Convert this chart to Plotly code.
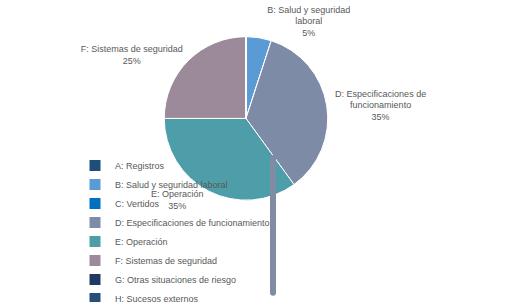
import plotly.graph_objects as go

labels = ["A: Registros", "B: Salud y seguridad laboral", "C: Vertidos",
          "D: Especificaciones de funcionamiento", "E: Operación",
          "F: Sistemas de seguridad", "G: Otras situaciones de riesgo",
          "H: Sucesos externos"]
values = [0, 5, 0, 35, 35, 25, 0, 0]
slice_text = ["", "B: Salud y seguridad<br>laboral<br>5%", "",
              "D: Especificaciones de<br>funcionamiento<br>35%",
              "E: Operación<br>35%", "F: Sistemas de seguridad<br>25%", "", ""]
colors = ["#1f4e79", "#5b9bd5", "#0070c0", "#7d8ba6", "#4d9ea8",
          "#9c8a9b", "#1f3864", "#254e7d"]

fig = go.Figure(go.Pie(
    labels=labels, values=values, text=slice_text, textinfo="text",
    textposition="outside", sort=False, direction="clockwise", rotation=0,
    marker=dict(colors=colors, line=dict(color="white", width=1)),
    textfont=dict(size=9, color="#595959", family="Liberation Sans"),
    domain=dict(x=[0.15, 0.85], y=[0.38, 0.99]),
    showlegend=True,
))
fig.update_layout(
    width=507, height=302, paper_bgcolor="white", plot_bgcolor="white",
    margin=dict(l=0, r=0, t=4, b=0),
    font=dict(family="Liberation Sans", size=9, color="#595959"),
    legend=dict(orientation="h", x=0.0, y=0.0, xanchor="left", yanchor="bottom",
                entrywidth=150, entrywidthmode="pixels", traceorder="normal",
                font=dict(size=9, color="#595959"),
                bgcolor="rgba(0,0,0,0)", tracegroupgap=0),
)
fig.write_html("out.html")
